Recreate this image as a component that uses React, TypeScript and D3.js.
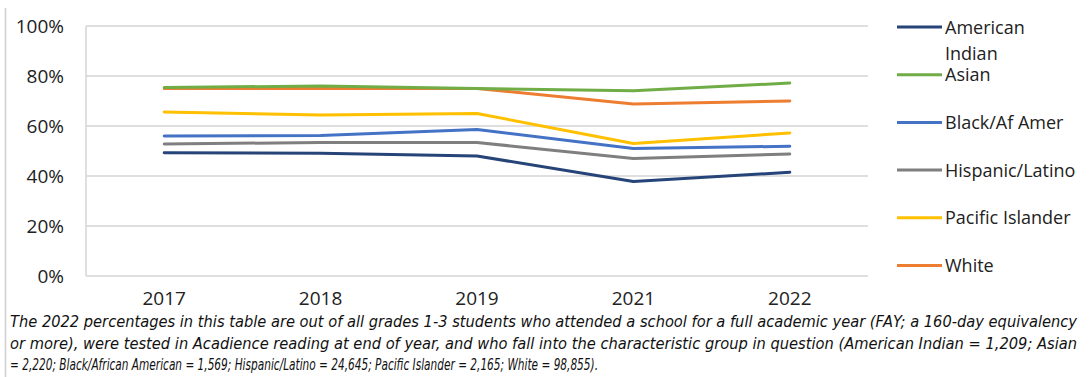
import React from "react";
import * as d3 from "d3";

const years = ["2017", "2018", "2019", "2021", "2022"];
const seriesNames = ["American Indian", "Asian", "Black/Af Amer", "Hispanic/Latino", "Pacific Islander", "White"];
const americanIndian = [49.3, 49.1, 48.0, 37.8, 41.5];
const asian = [75.4, 76.0, 75.0, 74.1, 77.2];
const black = [56.0, 56.2, 58.6, 51.0, 51.9];
const hispanic = [52.8, 53.4, 53.4, 47.0, 48.8];
const pacific = [65.6, 64.4, 65.0, 53.0, 57.2];
const white = [75.0, 75.0, 75.0, 68.8, 70.0];
const yTicks = [0, 20, 40, 60, 80, 100];
const colors = ["#264478", "#70AD47", "#4472C4", "#7F7F7F", "#FFC000", "#ED7D31"];
const captionLines = [
  "The 2022 percentages in this table are out of all grades 1-3 students who attended a school for a full academic year (FAY; a 160-day equivalency",
  "or more), were tested in Acadience reading at end of year, and who fall into the characteristic group in question (American Indian = 1,209; Asian",
  "= 2,220; Black/African American = 1,569; Hispanic/Latino = 24,645; Pacific Islander = 2,165; White = 98,855).",
];

const seriesValues = [americanIndian, asian, black, hispanic, pacific, white];
// draw order: so that orange sits under green at 2017-2019 like the reference
const drawOrder = [0, 3, 2, 4, 5, 1];

export default function App() {
  const W = 1089, H = 377;
  const left = 86, right = 868, top = 26, bottom = 276;
  const x = d3.scaleBand<string>().domain(years).range([left, right]);
  const y = d3.scaleLinear().domain([0, 100]).range([bottom, top]);
  const line = d3
    .line<number>()
    .x((_, i) => (x(years[i]) as number) + x.bandwidth() / 2)
    .y((d) => y(d));
  const font = "'Open Sans', sans-serif";
  const legendY = d3.scaleLinear().domain([0, 5]).range([27, 265.5]);
  const captionWidths = [1067, 1067, 588];

  return (
    <svg width={W} height={H} style={{ position: "absolute", left: 0, top: 0, background: "#fff" }}>
      <line x1={5.5} x2={5.5} y1={8} y2={H} stroke="#cfcfcf" strokeWidth={1.5} />
      {yTicks.map((t) => (
        <g key={t}>
          <line x1={left} x2={right} y1={y(t)} y2={y(t)} stroke="#d4d4d4" strokeWidth={1.5} />
          <text x={64} y={y(t) + 7} textAnchor="end" fontFamily={font} fontSize={19} fill="#222">
            {t + "%"}
          </text>
        </g>
      ))}
      <line x1={left} x2={left} y1={top} y2={bottom} stroke="#d4d4d4" strokeWidth={1.5} />
      {years.map((yr) => (
        <text
          key={yr}
          x={(x(yr) as number) + x.bandwidth() / 2}
          y={305}
          textAnchor="middle"
          fontFamily={font}
          fontSize={19}
          fill="#222"
        >
          {yr}
        </text>
      ))}
      {drawOrder.map((i) => (
        <path
          key={seriesNames[i]}
          d={line(seriesValues[i]) || ""}
          fill="none"
          stroke={colors[i]}
          strokeWidth={3}
          strokeLinejoin="round"
          strokeLinecap="round"
        />
      ))}
      {seriesNames.map((name, i) => {
        const ly = legendY(i);
        const parts = name === "American Indian" ? ["American", "Indian"] : [name];
        return (
          <g key={name}>
            <line x1={897} x2={942} y1={ly} y2={ly} stroke={colors[i]} strokeWidth={3} />
            {parts.map((p, j) => (
              <text key={p} x={945} y={ly + 6.5 + j * 26} fontFamily={font} fontSize={18} fill="#222">
                {p}
              </text>
            ))}
          </g>
        );
      })}
      {captionLines.map((c, i) => (
        <text
          key={i}
          x={10}
          y={327 + i * 21.5}
          fontFamily="'Liberation Sans Narrow', 'DejaVu Sans Condensed', sans-serif"
          fontStyle="italic"
          fontSize={15}
          fill="#111"
          textLength={captionWidths[i]}
          lengthAdjust="spacingAndGlyphs"
        >
          {c}
        </text>
      ))}
    </svg>
  );
}
